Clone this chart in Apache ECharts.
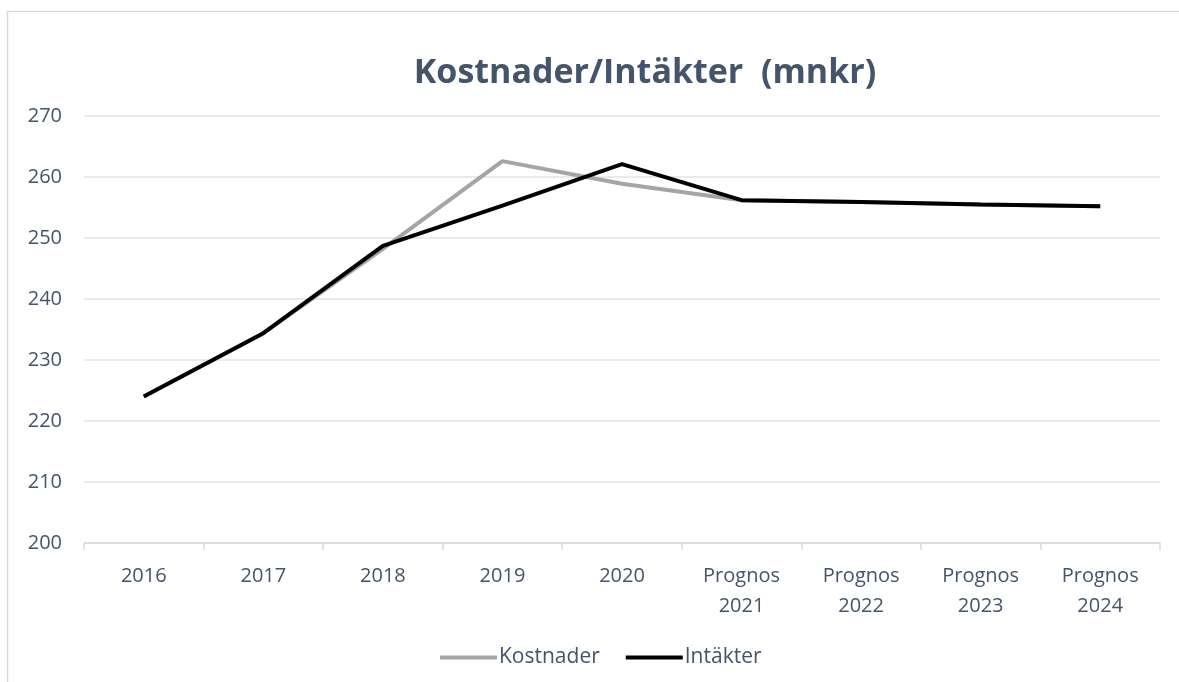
<!DOCTYPE html>
<html><head><meta charset="utf-8">
<script src="https://cdn.jsdelivr.net/npm/echarts@6/dist/echarts.min.js"></script>
<style>html,body{margin:0;padding:0;background:#fff}#c{width:1179px;height:682px}</style>
</head><body><div id="c"></div>
<script>
const categories = ['2016','2017','2018','2019','2020','Prognos\n2021','Prognos\n2022','Prognos\n2023','Prognos\n2024'];
const kostnader = [224, 234.4, 248.2, 262.6, 258.9, 256.2, 255.9, 255.5, 255.2];
const intakter  = [224, 234.4, 248.7, 255.3, 262.1, 256.2, 255.9, 255.5, 255.2];
const yTicks = {min: 200, max: 270, interval: 10};

const chart = echarts.init(document.getElementById('c'));
const font = "'Open Sans', 'Noto Sans', sans-serif";
chart.setOption({
  animation: false,
  backgroundColor: '#fff',
  graphic: [{type:'rect', shape:{x:7.5,y:11.5,width:1200,height:700}, style:{fill:'none', stroke:'#d9d9d9', lineWidth:1.5}}],
  title: {
    text: 'Kostnader/Intäkter  (mnkr)', left: 640, top: 51, textAlign: 'center',
    textStyle: {fontFamily: font, fontSize: 34, fontWeight: 'bold', color: '#44546A'}
  },
  legend: {
    bottom: 9, left: 435, itemGap: 26, itemWidth: 57, itemHeight: 4,
    icon: 'rect',
    textStyle: {fontFamily: font, fontSize: 21, color: '#44546A', padding: [0,0,0,-3]},
    data: ['Kostnader','Intäkter']
  },
  grid: {left: 84, right: 19, top: 116, bottom: 139},
  xAxis: {
    type: 'category', data: categories, boundaryGap: true,
    axisLine: {lineStyle: {color: '#d9d9d9', width: 1.5}},
    axisTick: {show: true, length: 7, lineStyle: {color: '#d9d9d9', width: 1.5}},
    axisLabel: {fontFamily: font, fontSize: 20, color: '#44546A', margin: 18, lineHeight: 30}
  },
  yAxis: {
    type: 'value', min: yTicks.min, max: yTicks.max, interval: yTicks.interval,
    axisLine: {show: false}, axisTick: {show: false},
    splitLine: {lineStyle: {color: '#dfe3ea', width: 1.5}},
    axisLabel: {fontFamily: font, fontSize: 20, color: '#44546A', margin: 22}
  },
  series: [
    {name: 'Kostnader', type: 'line', data: kostnader, symbol: 'none',
     lineStyle: {color: '#a5a5a5', width: 4}, itemStyle: {color: '#a5a5a5'}},
    {name: 'Intäkter', type: 'line', data: intakter, symbol: 'none',
     lineStyle: {color: '#000000', width: 4}, itemStyle: {color: '#000000'}}
  ]
});
</script></body></html>
